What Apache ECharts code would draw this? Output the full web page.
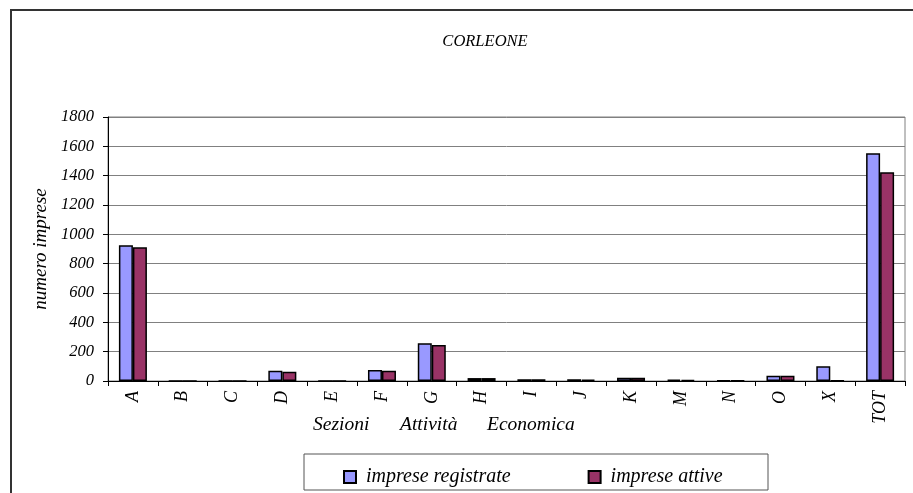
<!DOCTYPE html>
<html>
<head>
<meta charset="utf-8">
<script src="https://cdn.jsdelivr.net/npm/echarts@6/dist/echarts.min.js"></script>
<style>
html,body{margin:0;padding:0;background:#fff;}
#chart{width:913px;height:493px;}
</style>
</head>
<body>
<div id="chart"></div>
<script>
var categories = ['A','B','C','D','E','F','G','H','I','J','K','M','N','O','X','TOT'];
var impreseRegistrate = [925, 0, 0, 70, 0, 75, 257, 20, 12, 12, 22, 10, 5, 35, 100, 1552];
var impreseAttive = [912, 0, 0, 63, 0, 70, 245, 20, 12, 10, 22, 8, 4, 35, 3, 1423];
var titleText = 'CORLEONE';
var yAxisName = 'numero imprese';
var xAxisWords = ['Sezioni', 'Attività', 'Economica'];
var seriesNames = ['imprese registrate', 'imprese attive'];

var serif = '"Liberation Serif", "DejaVu Serif", serif';
var chart = echarts.init(document.getElementById('chart'));
chart.setOption({
  animation: false,
  backgroundColor: '#fff',
  title: {
    text: titleText, left: 480, top: 28, textAlign: 'center',
    textStyle: {fontFamily: serif, fontStyle: 'italic', fontWeight: 'normal', fontSize: 16.5, color: '#000'}
  },
  grid: {left: 108, right: 8, top: 117, bottom: 112, show: true, borderColor: '#808080', borderWidth: 1},
  legend: {
    data: seriesNames, left: 338, top: 462, itemGap: 77, itemWidth: 12, itemHeight: 12,
    icon: 'rect',
    textStyle: {fontFamily: serif, fontStyle: 'italic', fontSize: 20, color: '#000', padding: [0, 0, 0, 5]}
  },
  xAxis: {
    type: 'category', data: categories,
    axisLine: {lineStyle: {color: '#000', width: 1}},
    axisTick: {show: true, alignWithLabel: false, length: 5, lineStyle: {color: '#000'}},
    axisLabel: {rotate: 90, margin: 10, fontFamily: serif, fontStyle: 'italic', fontSize: 18, color: '#000'}
  },
  yAxis: {
    type: 'value', min: 0, max: 1800, interval: 200,
    name: yAxisName, nameLocation: 'middle', nameGap: 57, nameRotate: 90,
    nameTextStyle: {fontFamily: serif, fontStyle: 'italic', fontSize: 19, color: '#000'},
    axisLine: {show: true, lineStyle: {color: '#000'}},
    axisTick: {show: true, length: 5, lineStyle: {color: '#000'}},
    axisLabel: {margin: 14, fontFamily: serif, fontStyle: 'italic', fontSize: 16.5, color: '#000',
      formatter: function (v) { return String(v); }},
    splitLine: {show: true, lineStyle: {color: '#808080', width: 1}}
  },
  series: [
    {name: seriesNames[0], type: 'bar', data: impreseRegistrate, barWidth: 14, barGap: '0%',
     itemStyle: {color: '#9999FF', borderColor: '#000', borderWidth: 1.5}},
    {name: seriesNames[1], type: 'bar', data: impreseAttive, barWidth: 14,
     itemStyle: {color: '#993366', borderColor: '#000', borderWidth: 1.5}}
  ],
  graphic: [
    {type: 'rect', shape: {x: 11, y: 10, width: 960, height: 600}, style: {fill: 'none', stroke: '#333', lineWidth: 2}, silent: true},
    {type: 'rect', shape: {x: 304, y: 454, width: 464, height: 36}, style: {fill: 'none', stroke: '#555', lineWidth: 1}, silent: true, z: 0},
    {type: 'text', x: 313, y: 415, style: {text: xAxisWords[0], fontFamily: serif, fontStyle: 'italic', fontSize: 19.5, fill: '#000'}},
    {type: 'text', x: 400, y: 415, style: {text: xAxisWords[1], fontFamily: serif, fontStyle: 'italic', fontSize: 19.5, fill: '#000'}},
    {type: 'text', x: 487, y: 415, style: {text: xAxisWords[2], fontFamily: serif, fontStyle: 'italic', fontSize: 19.5, fill: '#000'}}
  ]
});
</script>
</body>
</html>
